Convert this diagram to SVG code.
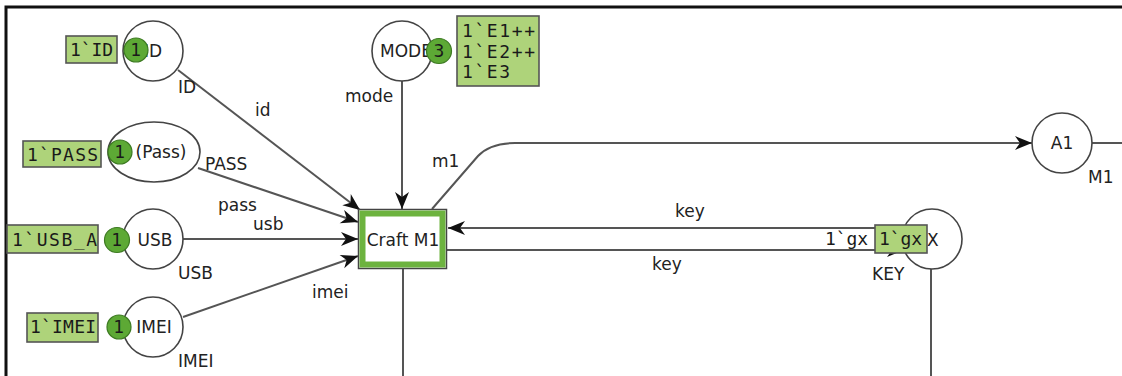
<svg xmlns="http://www.w3.org/2000/svg" width="1122" height="376" viewBox="0 0 1122 376">
<style>
.frame{fill:none;stroke:#111;stroke-width:3}
.place{fill:#fff;stroke:#444;stroke-width:1.6}
.arc{fill:none;stroke:#555;stroke-width:2}
.lbl{font-family:"DejaVu Sans",Verdana,sans-serif;font-size:17px;fill:#222}
.ptxt{font-family:"DejaVu Sans",Verdana,sans-serif;font-size:17px;fill:#222;text-anchor:middle}
.mark{fill:#aed37a;stroke:#555;stroke-width:1.6}
.mtxt{font-family:"DejaVu Sans Mono",monospace;font-size:18px;fill:#1a1a1a}
.tok{fill:#5da935;stroke:#3d7a22;stroke-width:1.2}
.ttxt{font-family:"DejaVu Sans",Verdana,sans-serif;font-size:17px;fill:#1a1a1a;text-anchor:middle}
</style>
<defs>
<marker id="ah" viewBox="-18 -8 19 16" refX="0" refY="0" markerWidth="19" markerHeight="16" markerUnits="userSpaceOnUse" orient="auto">
<path d="M0,0 L-17,-7 L-12,0 L-17,7 Z" fill="#111"/>
</marker>
</defs>
<rect width="1122" height="376" fill="#fff"/>
<path class="frame" d="M6,376 L6,7 L1122,7"/>

<g id="connectors">
<path class="arc" d="M178,70 L360,210" marker-end="url(#ah)"/>
<path class="arc" d="M198,168 L358,222" marker-end="url(#ah)"/>
<path class="arc" d="M183,239 L358,239" marker-end="url(#ah)"/>
<path class="arc" d="M183,317 L358,256" marker-end="url(#ah)"/>
<path class="arc" d="M402,81 L402,209" marker-end="url(#ah)"/>
<path class="arc" d="M432,209 L478,156 Q490,143 515,143 L1032,143" marker-end="url(#ah)"/>
<path class="arc" d="M904,228 L448,228" marker-end="url(#ah)"/>
<path class="arc" d="M447,250 L904,250" marker-end="url(#ah)"/>
<path class="arc" d="M1092,143 L1122,143"/>
<path class="arc" d="M403,269 L403,376"/>
<path class="arc" d="M931,269 L931,376"/>
<text class="lbl" x="178" y="93">ID</text>
<text class="lbl" x="255" y="116">id</text>
<text class="lbl" x="205" y="170">PASS</text>
<text class="lbl" x="218" y="211">pass</text>
<text class="lbl" x="253" y="230">usb</text>
<text class="lbl" x="178" y="279">USB</text>
<text class="lbl" x="312" y="298">imei</text>
<text class="lbl" x="178" y="367">IMEI</text>
<text class="lbl" x="345" y="102">mode</text>
<text class="lbl" x="432" y="167">m1</text>
<text class="lbl" x="675" y="217">key</text>
<text class="lbl" x="652" y="270">key</text>
<text class="lbl" x="872" y="280">KEY</text>
<text class="lbl" x="1088" y="183">M1</text>
<text class="mtxt" x="825" y="245" textLength="43">1`gx</text>
</g>

<g id="place-id">
<circle class="place" cx="153" cy="51" r="30"/>
<text class="ptxt" x="153" y="57">ID</text>
<rect class="mark" x="66" y="36" width="51" height="27"/>
<text class="mtxt" x="70" y="56" textLength="43">1`ID</text>
<circle class="tok" cx="136" cy="50" r="12"/>
<text class="ttxt" x="136" y="56">1</text>
</g>

<g id="place-pass">
<ellipse class="place" cx="154" cy="152" rx="46" ry="30"/>
<text class="ptxt" x="161" y="158">(Pass)</text>
<rect class="mark" x="23" y="141" width="78" height="26"/>
<text class="mtxt" x="27" y="161" textLength="71">1`PASS</text>
<circle class="tok" cx="120" cy="152" r="12"/>
<text class="ttxt" x="120" y="158">1</text>
</g>

<g id="place-usb">
<circle class="place" cx="153" cy="239" r="30"/>
<text class="ptxt" x="155" y="246">USB</text>
<rect class="mark" x="7" y="225" width="91" height="28"/>
<text class="mtxt" x="12" y="246" textLength="85">1`USB_A</text>
<circle class="tok" cx="117" cy="240" r="12.5"/>
<text class="ttxt" x="117" y="246">1</text>
</g>

<g id="place-imei">
<circle class="place" cx="153" cy="327" r="30"/>
<text class="ptxt" x="154" y="333">IMEI</text>
<rect class="mark" x="27" y="313" width="71" height="29"/>
<text class="mtxt" x="30" y="333" textLength="66">1`IMEI</text>
<circle class="tok" cx="119" cy="327" r="12"/>
<text class="ttxt" x="119" y="333">1</text>
</g>

<g id="place-mode">
<circle class="place" cx="402" cy="51" r="30"/>
<text class="ptxt" x="406" y="57">MODE</text>
<circle class="tok" cx="439" cy="51" r="12.5"/>
<text class="ttxt" x="439" y="57">3</text>
<rect class="mark" x="457" y="16" width="82" height="70"/>
<text class="mtxt" x="462" y="37" textLength="73">1`E1++</text>
<text class="mtxt" x="462" y="58" textLength="73">1`E2++</text>
<text class="mtxt" x="462" y="78" textLength="48">1`E3</text>
</g>

<g id="transition-craft-m1">
<rect x="358.5" y="209.5" width="88" height="59" fill="#fff" stroke="#444" stroke-width="1.5"/>
<rect x="362.5" y="213.5" width="80" height="51" fill="#fff" stroke="#6db33f" stroke-width="6"/>
<text class="ptxt" x="403" y="246" font-size="17">Craft M1</text>
</g>

<g id="place-a1">
<circle class="place" cx="1062" cy="143" r="30"/>
<text class="ptxt" x="1062" y="149">A1</text>
</g>

<g id="place-key">
<circle class="place" cx="932" cy="239" r="30"/>
<text class="lbl" x="927" y="246">X</text>
<rect class="mark" x="875" y="225" width="52" height="28"/>
<text class="mtxt" x="879" y="245" textLength="43">1`gx</text>
</g>
</svg>
